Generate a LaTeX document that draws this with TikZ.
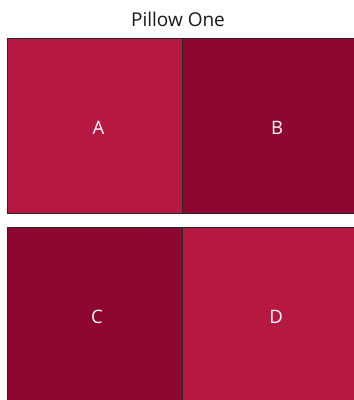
\documentclass[tikz,border=0pt]{standalone}
\usepackage{fontspec}
\setmainfont{Open Sans}
\definecolor{lightred}{HTML}{B71841}
\definecolor{darkred}{HTML}{8E0730}
\begin{document}
\begin{tikzpicture}[x=1pt,y=-1pt,
  cell/.style={draw=black!85, line width=0.9pt},
  lbl/.style={text=white, font=\fontsize{18.5}{22}\selectfont, inner sep=0pt},
  ttl/.style={text=black!90, font=\fontsize{19}{22}\selectfont, inner sep=0pt}]
\useasboundingbox (0,0) rectangle (354,400);
\fill[white] (0,0) rectangle (354,400);
\node[ttl] (title) at (178,19) {Pillow One};
\filldraw[cell, fill=lightred] (7,38.5) rectangle (182,213);
\filldraw[cell, fill=darkred] (182,38.5) rectangle (372,213);
\filldraw[cell, fill=darkred] (7,227) rectangle (182,410);
\filldraw[cell, fill=lightred] (182,227) rectangle (372,410);
\node[lbl] (A) at (98.5,127.5) {A};
\node[lbl] (B) at (277,127.5) {B};
\node[lbl] (C) at (97,317) {C};
\node[lbl] (D) at (276,317) {D};
\end{tikzpicture}
\end{document}
